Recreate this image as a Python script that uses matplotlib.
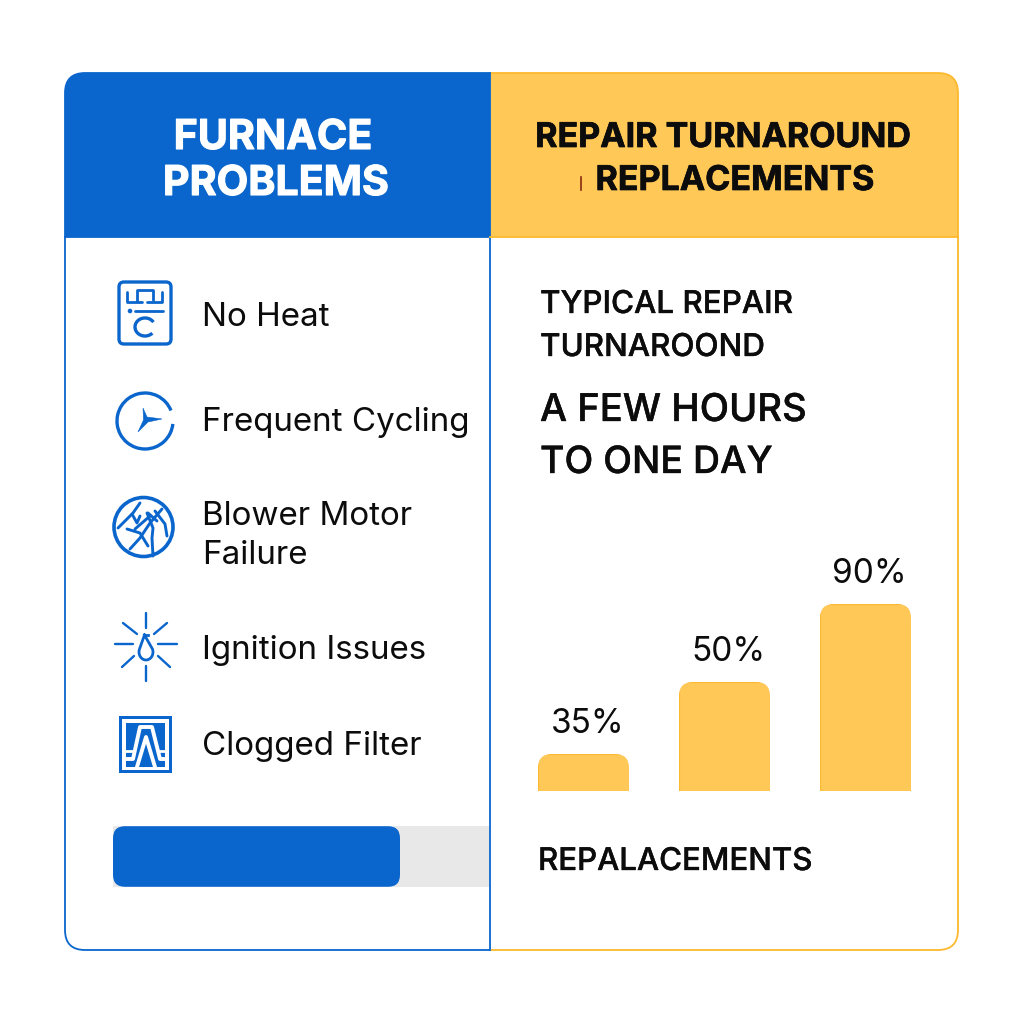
import numpy as np
import matplotlib.pyplot as plt
import matplotlib.patheffects as pe
from matplotlib.patches import FancyBboxPatch, Rectangle, Circle, Arc, Polygon

plt.rcParams['font.family'] = ['Inter', 'DejaVu Sans']

# Textos
left_title = ["FURNACE", "PROBLEMS"]
right_title = ["REPAIR TURNAROUND", "REPLACEMENTS"]
problems = ["No Heat", "Frequent Cycling", "Blower Motor\nFailure", "Ignition Issues", "Clogged Filter"]
# Barras
bar_labels = ["35%", "50%", "90%"]
bar_heights = [37, 109, 187]
progress_done = 287
progress_track = 376

blue = "#0A66CC"
yellow = "#FFC857"
edge_yellow = "#FDB92E"
dark = "#0C0C0C"

fig = plt.figure(figsize=(10.24, 10.24), dpi=100)
ax = fig.add_axes([0, 0, 1, 1])
ax.set_xlim(0, 1024)
ax.set_ylim(1024, 0)
ax.axis("off")

def rounded(x0, y0, x1, y1, r, **kw):
    return FancyBboxPatch((x0 + r, y0 + r), x1 - x0 - 2 * r, y1 - y0 - 2 * r,
                          boxstyle="round,pad=%f,rounding_size=%f" % (r, r), **kw)

def heavy(color, w):
    return [pe.withStroke(linewidth=w, foreground=color)]

def line(pts, lw=2.0, color=blue):
    xs, ys = zip(*pts)
    ax.plot(xs, ys, color=color, lw=lw, solid_capstyle="round")

# Tarjeta
clip = rounded(65, 73, 958, 950, 20, fc="white", ec="none")
ax.add_patch(clip)
r = Rectangle((65, 73), 425, 164, fc=blue, ec="none", zorder=1)
ax.add_patch(r)
r.set_clip_path(clip)
r = Rectangle((490, 73), 468, 164, fc=yellow, ec="none", zorder=1)
ax.add_patch(r)
r.set_clip_path(clip)
# Bordes
left_line = rounded(65, 73, 958, 950, 20, fc="none", ec=blue, lw=1.3, zorder=2)
ax.add_patch(left_line)
left_line.set_clip_path(Rectangle((0, 0), 490, 1024, transform=ax.transData))
right_line = rounded(65, 73, 958, 950, 20, fc="none", ec=edge_yellow, lw=1.3, zorder=2)
ax.add_patch(right_line)
right_line.set_clip_path(Rectangle((490, 0), 534, 1024, transform=ax.transData))
ax.plot([490, 490], [73, 950], color=blue, lw=1.3, zorder=3)
ax.plot([65, 490], [237, 237], color=blue, lw=1.3, zorder=3)
ax.plot([490, 958], [237, 237], color=edge_yellow, lw=1.3, zorder=3)

# Titulos
ax.text(273, 138, left_title[0], color="white", fontsize=29.6, fontweight="bold", ha="center", va="center",
        path_effects=heavy("white", 0.8))
ax.text(276, 184, left_title[1], color="white", fontsize=29.6, fontweight="bold", ha="center", va="center",
        path_effects=heavy("white", 0.8))
ax.text(723, 138, right_title[0], color=dark, fontsize=24.5, fontweight="bold", ha="center", va="center",
        path_effects=heavy(dark, 0.5))
ax.text(735, 181, right_title[1], color=dark, fontsize=24.5, fontweight="bold", ha="center", va="center",
        path_effects=heavy(dark, 0.5))
ax.plot([581, 581], [177, 190], color="#8a2a10", lw=1.2)

# Lista de problemas
ys = [318, 422, 536, 651, 747]
for t, y in zip(problems, ys):
    ax.text(202, y, t, color=dark, fontsize=23.9, va="center", ha="left", linespacing=1.3)

# Icono 1
ax.add_patch(rounded(119, 282, 171, 344, 5, fc="none", ec=blue, lw=2.4))
line([(127, 292), (127, 302), (142, 302)])
line([(137, 301), (137, 290), (153, 290), (153, 300)])
line([(162, 292), (162, 302), (147, 302)])
line([(135, 311), (163, 311)])
ax.add_patch(Circle((130, 311), 1.6, color=blue))
ax.add_patch(Arc((145, 327), 20, 18, theta1=40, theta2=330, color=blue, lw=2.4))
# Icono 2
ax.add_patch(Arc((145, 421), 56, 56, theta1=6, theta2=338, color=blue, lw=2.4))
ax.add_patch(Polygon([(143, 408), (147, 417), (162, 419), (148, 422), (138, 432), (143.5, 420)], fc=blue, ec=blue, lw=0.4))
# Icono 3
ax.add_patch(Circle((143.5, 527), 29.5, fc="none", ec=blue, lw=2.6))
for seg in [[(140, 503), (133, 513), (127, 519), (118, 528)],
            [(132, 514), (137, 523), (140, 516)],
            [(162, 509), (150, 523), (140, 538), (130, 549)],
            [(147, 513), (153, 528), (152, 538), (153, 556)],
            [(127, 529), (140, 533), (148, 546)],
            [(155, 511), (165, 524), (167, 536)],
            [(148, 513), (157, 521)],
            [(135, 529), (150, 516)]]:
    line(seg, lw=2.1)
# Icono 4
for seg in [[(146, 613), (146, 628)], [(146, 666), (146, 681)], [(115, 644), (133, 644)],
            [(158, 644), (177, 644)], [(123, 623), (137, 634)], [(167, 623), (154, 634)],
            [(122, 667), (134, 656)], [(170, 667), (158, 656)]]:
    line(seg, lw=1.7)
t = np.radians(np.arange(-20, 201, 10))
gx = 146 + 7 * np.cos(t)
gy = 652 + 8 * np.sin(t)
ax.plot(np.r_[144.5, gx, 144.5], np.r_[635, gy, 635], color=blue, lw=2)
ax.plot([144.5, 147.5], [635, 635], color=blue, lw=2)
# Icono 5
ax.add_patch(Rectangle((119, 716), 53, 57, fc=blue, ec="none"))
ax.add_patch(Rectangle((122, 719), 47, 51, fc="white", ec="none"))
ax.add_patch(Rectangle((126, 723), 39, 44, fc=blue, ec="none"))
ax.plot([126, 133, 140, 152, 160, 166], [759, 759, 727, 727, 759, 759], color="white", lw=2.8)
ax.plot([137, 146, 155], [767, 737, 767], color="white", lw=2.8)
ax.plot([126, 133], [751, 751], color="white", lw=2)
ax.plot([159, 166], [751, 751], color="white", lw=2)

# Columna derecha
ax.text(540, 305, "TYPICAL REPAIR", color=dark, fontsize=22.6, fontweight="medium", va="center",
        path_effects=heavy(dark, 0.25))
ax.text(540, 348, "TURNAROOND", color=dark, fontsize=22.6, fontweight="medium", va="center",
        path_effects=heavy(dark, 0.25))
ax.text(540, 411, "A FEW HOURS", color=dark, fontsize=27.5, fontweight="medium", va="center",
        path_effects=heavy(dark, 0.25))
ax.text(540, 463, "TO ONE DAY", color=dark, fontsize=27, fontweight="medium", va="center",
        path_effects=heavy(dark, 0.25))
ax.text(538, 862, "REPALACEMENTS", color=dark, fontsize=22.5, fontweight="medium", va="center",
        path_effects=heavy(dark, 0.25))

# Barras con esquinas redondeadas
bx = fig.add_axes([538 / 1024, 1 - 791 / 1024, 373 / 1024, 187 / 1024])
bx.set_xlim(0, 373)
bx.set_ylim(0, 187)
bx.axis("off")
pos = [45.5, 186.5, 327.5]
bars = bx.bar(pos, bar_heights, width=91, color=yellow, edgecolor=edge_yellow, lw=0.8)
for b, lab, p, h in zip(bars, bar_labels, pos, bar_heights):
    k = FancyBboxPatch((p - 45.5 + 14, -30), 91 - 28, h + 30 - 14,
                       boxstyle="round,pad=14,rounding_size=14", transform=bx.transData)
    b.set_clip_path(k)
    bx.text(p + 4, h + 30, lab, fontsize=24, color=dark, ha="center", va="center", clip_on=False)

# Barra de avance
px = fig.add_axes([113 / 1024, 1 - 887 / 1024, 376 / 1024, 61 / 1024])
px.set_xlim(0, progress_track)
px.set_ylim(-0.5, 0.5)
px.axis("off")
track = px.barh(0, progress_track, height=1, color="#E8E8E8")
done = px.barh(0, progress_done, height=1, color=blue)
k = FancyBboxPatch((12, -0.3), progress_done - 24, 0.6, mutation_aspect=1 / 61,
                   boxstyle="round,pad=12,rounding_size=12", transform=px.transData)
done[0].set_clip_path(k)

fig.savefig("out.png", dpi=100)
